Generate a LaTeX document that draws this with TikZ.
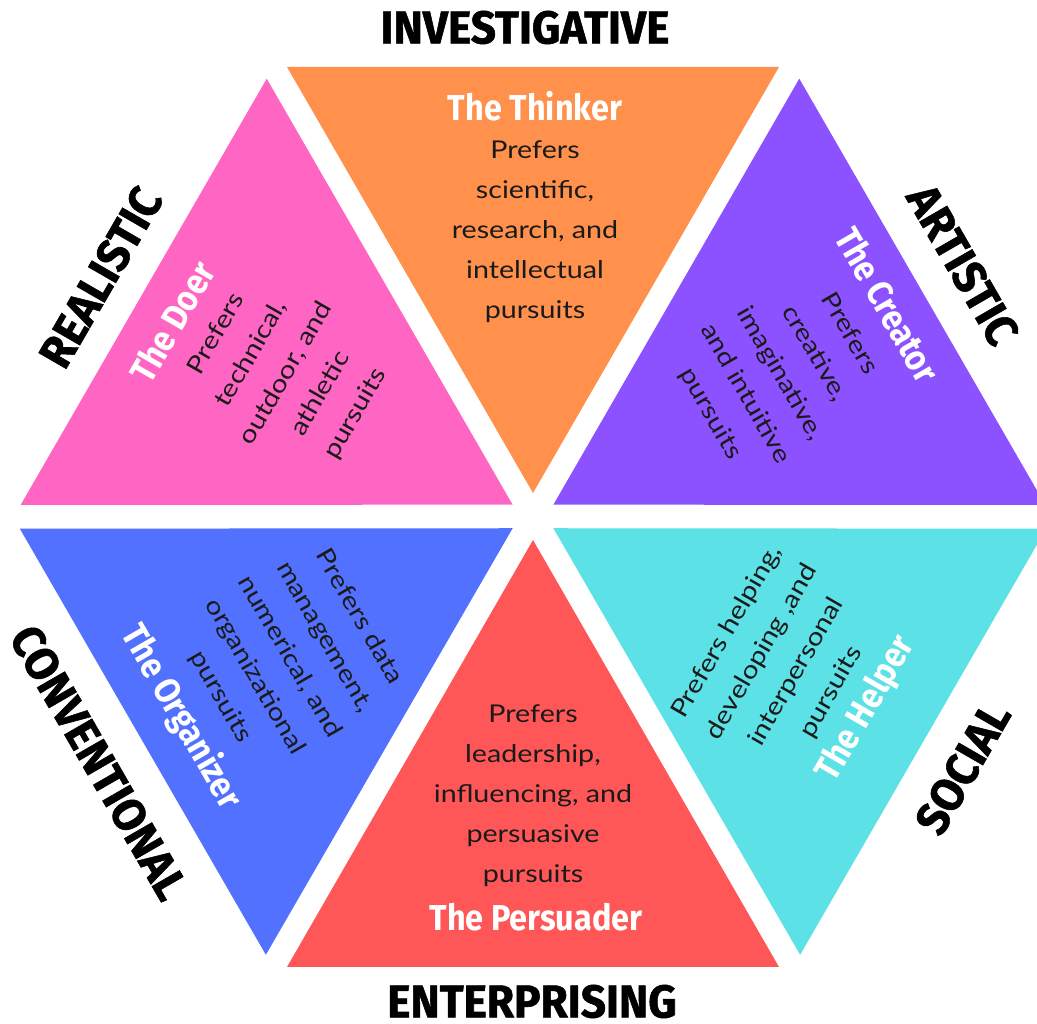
\documentclass[tikz,border=0pt]{standalone}
\usepackage{fontspec}
\setmainfont{Lato}[FakeStretch=1.17]
\newfontfamily\headfont{Fira Sans}[FakeStretch=0.96,FakeBold=1.2]
\newfontfamily\titlefont{Fira Sans}[FakeStretch=0.9]
\definecolor{cOrange}{HTML}{FF914D}
\definecolor{cPink}{HTML}{FF66C4}
\definecolor{cPurple}{HTML}{8C52FF}
\definecolor{cBlue}{HTML}{5271FF}
\definecolor{cRed}{HTML}{FF5757}
\definecolor{cCyan}{HTML}{5CE1E6}
\definecolor{textdark}{HTML}{1A1A1A}
\tikzset{
  cat/.style={font=\headfont\bfseries\fontsize{46}{50}\selectfont, text=black, transform shape, inner sep=0pt},
  ttl/.style={font=\titlefont\bfseries\fontsize{36}{40}\selectfont, text=white, transform shape, inner sep=0pt},
  body/.style={font=\fontsize{24.5}{40}\selectfont, text=textdark, align=center, transform shape, inner sep=0pt},
}
\begin{document}
\begin{tikzpicture}[x=1pt,y=1pt]
\useasboundingbox (0,0) rectangle (1037,1024);
\fill[white] (0,0) rectangle (1037,1024);
\coordinate (C) at (533,507.5);
% top: orange (Investigative)
\begin{scope}[shift={(C)}]
  \fill[cOrange] (-246,449.5) -- (246,449.5) -- (0,23.5) -- cycle;
  \node[ttl] (thinker) at (2,410) {The Thinker};
  \node[body] (thinkerb) at (2,285) {Prefers\\scientific,\\research, and\\intellectual\\pursuits};
  \node[cat] (inv) at (-8,489) {INVESTIGATIVE};
\end{scope}
% upper left: pink (Realistic)
\begin{scope}[shift={(C)},rotate=60]
  \fill[cPink] (-246,449.5) -- (246,449.5) -- (0,23.5) -- cycle;
  \node[ttl] (doer) at (-12,410) {The Doer};
  \node[body] (doerb) at (0,285) {Prefers\\technical,\\outdoor, and\\athletic\\pursuits};
  \node[cat] (real) at (-9,494) {REALISTIC};
\end{scope}
% upper right: purple (Artistic)
\begin{scope}[shift={(C)},rotate=-60]
  \fill[cPurple] (-246,449.5) -- (246,449.5) -- (0,23.5) -- cycle;
  \node[ttl] (creator) at (-6,413) {The Creator};
  \node[body] (creatorb) at (0,285) {Prefers\\creative,\\imaginative,\\and intuitive\\pursuits};
  \node[cat] (art) at (-3,498) {ARTISTIC};
\end{scope}
% bottom: red (Enterprising)
\begin{scope}[shift={(C)}]
  \fill[cRed] (-246,-450.5) -- (246,-450.5) -- (0,-23.5) -- cycle;
  \node[ttl] (pers) at (3,-401) {The Persuader};
  \node[body] (persb) at (0,-279) {Prefers\\leadership,\\influencing, and\\persuasive\\pursuits};
  \node[cat] (ent) at (-1,-485) {ENTERPRISING};
\end{scope}
% lower left: blue (Conventional)
\begin{scope}[shift={(C)},rotate=-60]
  \fill[cBlue] (-246,-450.5) -- (246,-450.5) -- (0,-23.5) -- cycle;
  \node[ttl] (org) at (-2,-405) {The Organizer};
  \node[body] (orgb) at (0,-281) {Prefers data\\management,\\numerical, and\\organizational\\pursuits};
  \node[cat] (conv) at (-4,-499) {CONVENTIONAL};
\end{scope}
% lower right: cyan (Social)
\begin{scope}[shift={(C)},rotate=60]
  \fill[cCyan] (-246,-450.5) -- (246,-450.5) -- (0,-23.5) -- cycle;
  \node[ttl] (help) at (0,-385) {The Helper};
  \node[body] (helpb) at (-3,-286) {Prefers helping,\\developing ,and\\interpersonal\\pursuits};
  \node[cat] (soc) at (-3,-498) {SOCIAL};
\end{scope}
\end{tikzpicture}
\end{document}
